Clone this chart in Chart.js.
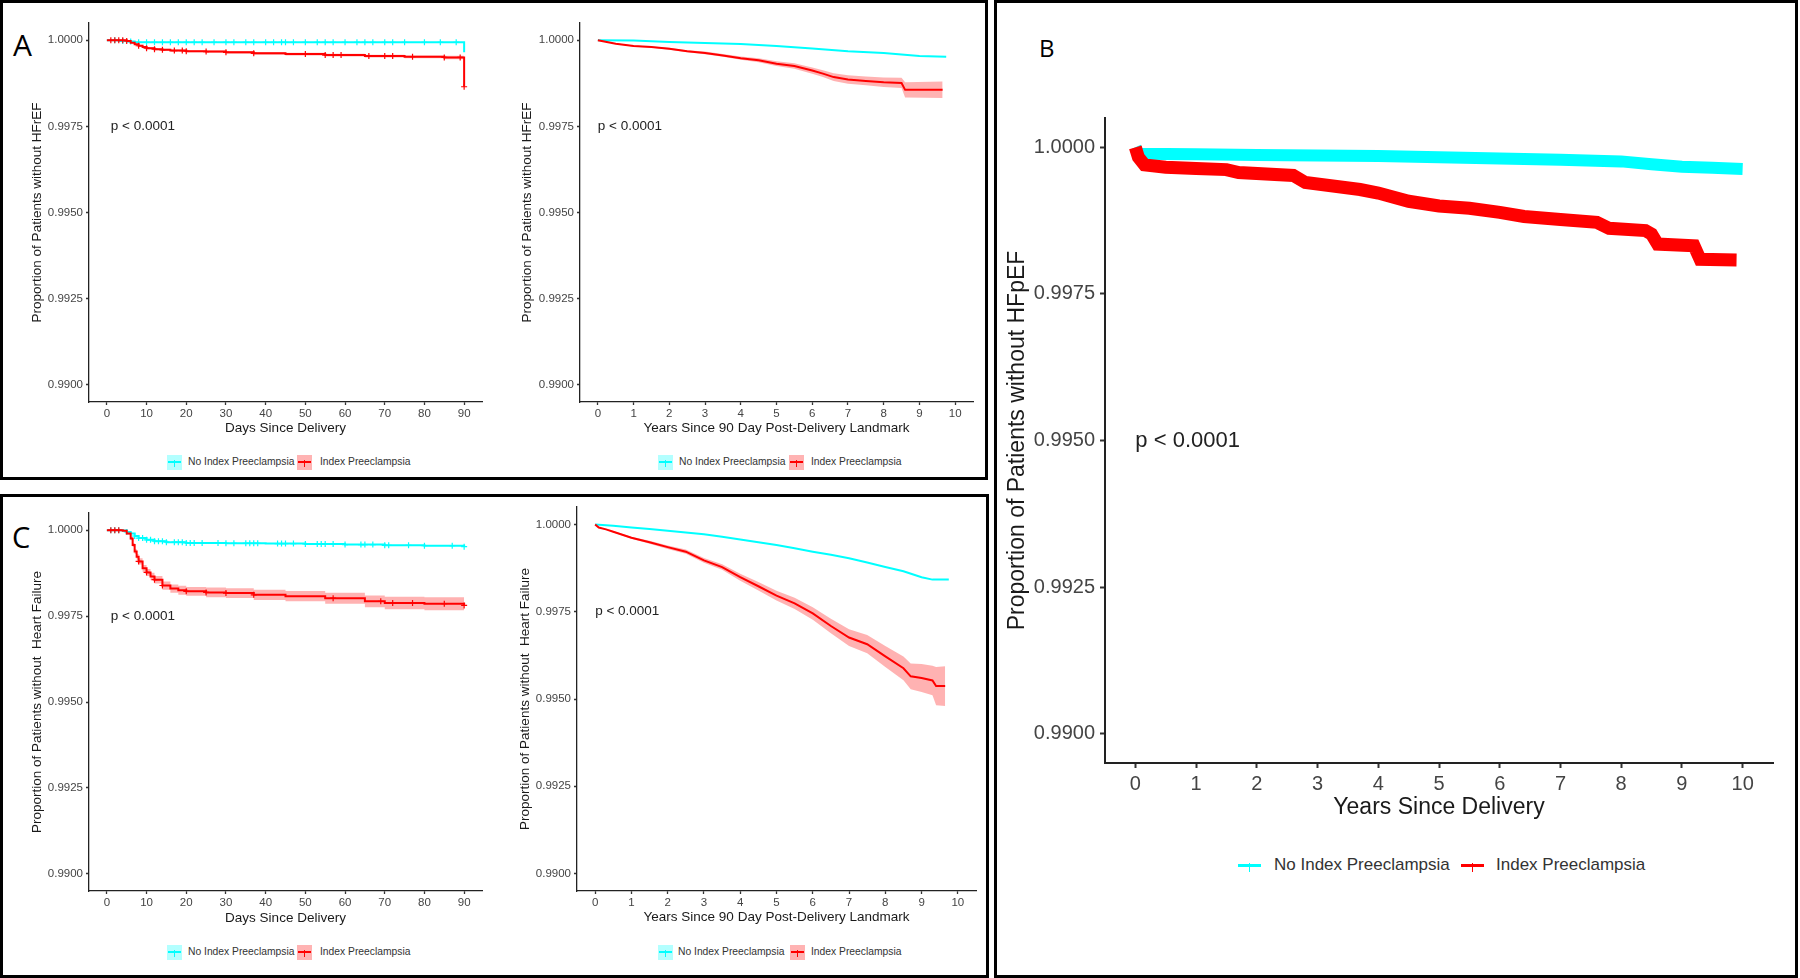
<!DOCTYPE html>
<html>
<head>
<meta charset="utf-8">
<script src="https://cdn.jsdelivr.net/npm/chart.js@4.4.0/dist/chart.umd.min.js"></script>
<style>
  body { margin: 0; width: 1800px; height: 978px; background: #fff; position: relative; overflow: hidden;
         font-family: "Liberation Sans", Arial, sans-serif; }
  .frame { position: absolute; border: 3px solid #000; box-sizing: border-box; }
  .tag { position: absolute; font-family: "Open Sans", "Noto Sans", sans-serif; color: #000; }
  .leg { position: absolute; color: #333; white-space: nowrap; }
  .key { position: absolute; }
  canvas { position: absolute; }
</style>
</head>
<body>
<div class="frame" style="left:0;top:0;width:988px;height:480px"></div>
<div class="frame" style="left:0;top:494px;width:989px;height:484px"></div>
<div class="frame" style="left:994px;top:0;width:804px;height:978px"></div>
<div class="tag" style="left:13px;top:30px;font-size:30px;line-height:30px">A</div>
<div class="tag" style="left:1039px;top:36px;font-size:24px;line-height:24px">B</div>
<div class="tag" style="left:12px;top:522px;font-size:29px;line-height:29px">C</div>

<script>
// shared axes
const yTicks = [0.99, 0.9925, 0.995, 0.9975, 1.0];
const dayTicks = [0, 10, 20, 30, 40, 50, 60, 70, 80, 90];
const yearTicks = [0, 1, 2, 3, 4, 5, 6, 7, 8, 9, 10];
const seriesNames = ['No Index Preeclampsia', 'Index Preeclampsia'];

// A, first 90 days (HFrEF)
const aDayNoT = [0, 3, 5, 7, 45, 90, 90];
const aDayNoS = [1.0, 0.99998, 0.99996, 0.99994, 0.99994, 0.99994, 0.99965];
const aDayNoCens = [2, 4, 6, 8, 10, 12, 14, 16, 18, 20, 22, 24, 27, 30, 32, 35, 37, 40, 42, 44, 45, 47, 50, 53, 55, 57, 60, 63, 65, 67, 70, 72, 75, 80, 84, 88];
const aDayPeT = [0, 5, 6, 7, 8, 9, 10, 12, 14, 16, 20, 25, 30, 37, 45, 55, 65, 75, 85, 89.6, 90];
const aDayPeS = [1.0, 0.99998, 0.99993, 0.99988, 0.99984, 0.9998, 0.99977, 0.99974, 0.99972, 0.9997, 0.99968, 0.99967, 0.99965, 0.99962, 0.9996, 0.99957, 0.99954, 0.99952, 0.9995, 0.9995, 0.99865];
const aDayPeLo = [1.0, 0.99997, 0.99991, 0.99986, 0.99981, 0.99977, 0.99974, 0.99971, 0.99969, 0.99967, 0.99965, 0.99964, 0.99961, 0.99958, 0.99956, 0.99953, 0.9995, 0.99948, 0.99945, 0.99945, 0.99862];
const aDayPeHi = [1.0, 0.99999, 0.99995, 0.9999, 0.99987, 0.99983, 0.9998, 0.99977, 0.99975, 0.99973, 0.99971, 0.9997, 0.99969, 0.99966, 0.99964, 0.99961, 0.99958, 0.99956, 0.99955, 0.99955, 0.99868];
const aDayPeCens = [1, 2, 3, 4, 5, 8, 10, 12, 14, 17, 19, 20, 25, 30, 37, 50, 55, 57, 59, 66, 70, 72, 77, 85, 89, 90];

// A, years after 90 day landmark (HFrEF)
const aYrNoT = [0, 1, 2, 3, 4, 5, 6, 7, 8, 9, 9.75];
const aYrNoS = [1.0, 0.99999, 0.99995, 0.99992, 0.99989, 0.99983, 0.99976, 0.99968, 0.99963, 0.99954, 0.99952];
const aYrPeT = [0, 0.5, 1, 1.5, 2, 2.5, 3, 3.5, 4, 4.5, 5, 5.5, 6, 6.3, 6.6, 7, 7.5, 8, 8.5, 8.6, 9.65];
const aYrPeS = [1.0, 0.9999, 0.99983, 0.9998, 0.99975, 0.99968, 0.99963, 0.99956, 0.99948, 0.99942, 0.99932, 0.99925, 0.99912, 0.99903, 0.99893, 0.99886, 0.99882, 0.99878, 0.99876, 0.99856, 0.99856];
const aYrPeLo = [1.0, 0.99989, 0.99981, 0.99978, 0.99972, 0.99965, 0.99959, 0.99952, 0.99943, 0.99936, 0.99925, 0.99917, 0.99903, 0.99893, 0.99882, 0.99874, 0.99869, 0.99864, 0.99861, 0.99834, 0.99832];
const aYrPeHi = [1.0, 0.99991, 0.99985, 0.99982, 0.99978, 0.99971, 0.99967, 0.9996, 0.99953, 0.99948, 0.99939, 0.99933, 0.99921, 0.99913, 0.99904, 0.99898, 0.99895, 0.99892, 0.99891, 0.99878, 0.9988];

// B, years since delivery (HFpEF)
const bNoT = [0, 0.05, 1, 2, 3, 4, 5, 6, 7, 8, 8.5, 9, 9.5, 10];
const bNoS = [1.0, 0.99989, 0.99988, 0.99987, 0.99986, 0.99985, 0.99983, 0.99981, 0.99979, 0.99976, 0.99971, 0.99967, 0.99965, 0.99963];
const bPeT = [0, 0.05, 0.15, 0.5, 1, 1.5, 1.7, 2.6, 2.8, 3.7, 4, 4.5, 5, 5.5, 6, 6.4, 7, 7.6, 7.8, 8.4, 8.5, 8.6, 9.2, 9.3, 9.9];
const bPeS = [1.0, 0.99983, 0.9997, 0.99966, 0.99964, 0.99962, 0.99957, 0.99952, 0.9994, 0.99928, 0.99922, 0.99908, 0.999, 0.99896, 0.99889, 0.99882, 0.99877, 0.99872, 0.99862, 0.99858, 0.99852, 0.99835, 0.99832, 0.99809, 0.99808];

// C, first 90 days (any heart failure)
const cDayNoT = [0, 3, 4, 5, 6, 7, 8, 10, 12, 15, 20, 30, 40, 50, 60, 70, 80, 90];
const cDayNoS = [1.0, 1.0, 0.99999, 0.99995, 0.9999, 0.99983, 0.99977, 0.99972, 0.99968, 0.99965, 0.99963, 0.99962, 0.99961, 0.9996, 0.99958, 0.99956, 0.99955, 0.99952];
const cDayNoCens = [1, 2, 3, 5, 7, 8, 9, 10, 11, 12, 13, 14, 15, 17, 18, 19, 20, 21, 22, 24, 28, 30, 32, 35, 36, 37, 38, 43, 44, 45, 47, 50, 53, 54, 55, 57, 60, 64, 65, 67, 70, 71, 76, 80, 87, 90];
const cDayPeT = [0, 4, 5, 6, 6.5, 7, 7.5, 8, 9, 10, 11, 12, 14, 16, 18, 20, 25, 30, 37, 45, 55, 65, 70, 80, 90];
const cDayPeS = [1.0, 0.99998, 0.9999, 0.99976, 0.99957, 0.99938, 0.99923, 0.99909, 0.99889, 0.99877, 0.99865, 0.99856, 0.99839, 0.9983, 0.99825, 0.99822, 0.99819, 0.99817, 0.99812, 0.99808, 0.99802, 0.99793, 0.99788, 0.99786, 0.99781];
const cDayPeLo = [1.0, 0.99997, 0.99987, 0.99971, 0.99951, 0.99931, 0.99915, 0.999, 0.99879, 0.99867, 0.99854, 0.99845, 0.99827, 0.99818, 0.99812, 0.99809, 0.99805, 0.99803, 0.99797, 0.99793, 0.99786, 0.99776, 0.9977, 0.99767, 0.99761];
const cDayPeHi = [1.0, 0.99999, 0.99993, 0.99981, 0.99963, 0.99945, 0.99931, 0.99918, 0.99899, 0.99887, 0.99876, 0.99867, 0.99851, 0.99842, 0.99838, 0.99835, 0.99833, 0.99831, 0.99827, 0.99823, 0.99818, 0.9981, 0.99806, 0.99805, 0.99801];
const cDayPeCens = [1, 2, 3, 8, 10, 12, 14, 20, 25, 30, 37, 57, 69, 72, 77, 85, 90];

// C, years after 90 day landmark (any heart failure)
const cYrNoT = [0, 0.5, 1, 1.5, 2, 2.5, 3, 3.5, 4, 4.5, 5, 5.5, 6, 6.5, 7, 7.5, 8, 8.5, 9, 9.3, 9.75];
const cYrNoS = [1.0, 0.99996, 0.99991, 0.99987, 0.99982, 0.99977, 0.99972, 0.99965, 0.99957, 0.99949, 0.99941, 0.99932, 0.99922, 0.99913, 0.99903, 0.99891, 0.99878, 0.99866, 0.99849, 0.99842, 0.99842];
const cYrPeT = [0, 0.1, 0.3, 0.5, 1, 1.5, 2, 2.5, 3, 3.5, 4, 4.5, 5, 5.5, 6, 6.5, 7, 7.5, 8, 8.5, 8.7, 9, 9.3, 9.4, 9.65];
const cYrPeS = [1.0, 0.99991, 0.99986, 0.99979, 0.99962, 0.99949, 0.99935, 0.99922, 0.99897, 0.99878, 0.99849, 0.99823, 0.99796, 0.99774, 0.99745, 0.99709, 0.99676, 0.99657, 0.99622, 0.99588, 0.99565, 0.9956, 0.99553, 0.99537, 0.99537];
const cYrPeLo = [1.0, 0.9999, 0.99985, 0.99977, 0.99959, 0.99945, 0.9993, 0.99916, 0.9989, 0.9987, 0.99839, 0.99811, 0.99782, 0.99758, 0.99727, 0.99688, 0.99652, 0.99631, 0.99592, 0.99554, 0.99528, 0.9952, 0.99511, 0.99482, 0.9948];
const cYrPeHi = [1.0, 0.99992, 0.99987, 0.99981, 0.99965, 0.99953, 0.9994, 0.99928, 0.99904, 0.99886, 0.99859, 0.99835, 0.9981, 0.9979, 0.99763, 0.9973, 0.997, 0.99683, 0.99652, 0.99622, 0.99602, 0.996, 0.99595, 0.99592, 0.99594];

const FONT = '"Liberation Sans", Arial, sans-serif';
const CYAN = '#00ffff';
const RED = '#ff0000';
const CYAN_BAND = '#b3ffff';
const RED_BAND = 'rgba(255, 0, 0, 0.3)';

const pts = (t, s) => t.map((x, i) => ({ x: x, y: s[i] }));

// survival at time x on a step curve
function valueAt(t, s, x) {
  let v = s[0];
  for (let i = 0; i < t.length; i++) {
    if (t[i] <= x) v = s[i];
  }
  return v;
}

function lineDs(t, s, color, width, stepped, order) {
  return { data: pts(t, s), borderColor: color, borderWidth: width, pointRadius: 0,
           stepped: stepped, fill: false, order: order, borderJoinStyle: 'miter' };
}

function bandDs(t, lo, hi, color, stepped) {
  return [
    { data: pts(t, hi), borderWidth: 0, borderColor: 'transparent', pointRadius: 0,
      stepped: stepped, fill: '+1', backgroundColor: color, order: 10 },
    { data: pts(t, lo), borderWidth: 0, borderColor: 'transparent', pointRadius: 0,
      stepped: stepped, fill: false, order: 10 }
  ];
}

function censorDs(times, t, s, color, order) {
  return { data: times.map(x => ({ x: x, y: valueAt(t, s, x) })), showLine: false,
           pointStyle: 'cross', pointRadius: 3, borderColor: color, borderWidth: 1.2, order: order };
}

const pvalPlugin = {
  id: 'pval',
  afterDatasetsDraw(chart, args, opts) {
    const { ctx, scales } = chart;
    ctx.save();
    ctx.font = opts.size + 'px ' + FONT;
    ctx.fillStyle = '#222';
    ctx.textAlign = 'left';
    ctx.textBaseline = 'middle';
    ctx.fillText(opts.text, scales.x.getPixelForValue(opts.x), scales.y.getPixelForValue(opts.y));
    ctx.restore();
  }
};

function makePanel(p) {
  const c = document.createElement('canvas');
  c.width = p.cw;
  c.height = p.ch;
  c.style.left = p.cx + 'px';
  c.style.top = p.cy + 'px';
  document.body.appendChild(c);

  const lh = p.titleSize * 1.2;
  const yW = p.l - p.cx;
  const xH = p.xTitleY + lh / 2 + 2 - p.b;
  const tickFont = { family: FONT, size: p.tickSize };
  const titleFont = { family: FONT, size: p.titleSize };
  const grid = { drawOnChartArea: false, tickLength: p.tickLen, tickColor: '#333', tickWidth: p.axisW, color: '#333' };
  const border = { display: true, color: '#222', width: p.axisW };

  new Chart(c, {
    type: 'line',
    data: { datasets: p.datasets },
    options: {
      responsive: false,
      animation: false,
      devicePixelRatio: 1,
      layout: { padding: { left: 0, top: p.t - p.cy, right: p.cx + p.cw - p.r, bottom: p.cy + p.ch - p.b - xH } },
      plugins: {
        legend: { display: false },
        tooltip: { enabled: false },
        pval: p.pval
      },
      scales: {
        x: {
          type: 'linear', min: p.xMin, max: p.xMax,
          afterBuildTicks: s => { s.ticks = p.xTicks.map(v => ({ value: v })); },
          afterFit: s => { s.height = xH; },
          ticks: { autoSkip: false, maxRotation: 0, font: tickFont, color: '#444', padding: p.tickPad, callback: v => String(v) },
          grid: grid,
          border: border,
          title: { display: true, text: p.xTitle, font: titleFont, color: '#1a1a1a', padding: { top: 0, bottom: 2 } }
        },
        y: {
          type: 'linear', min: 0.9895, max: 1.0005,
          afterBuildTicks: s => { s.ticks = yTicks.map(v => ({ value: v })); },
          afterFit: s => { s.width = yW; },
          ticks: { autoSkip: false, font: tickFont, color: '#444', padding: p.tickPad + 1, callback: v => v.toFixed(4) },
          grid: grid,
          border: border,
          title: { display: true, text: p.yTitle, font: titleFont, color: '#1a1a1a', padding: { top: p.yTitleX - p.cx - lh / 2, bottom: 0 } }
        }
      }
    },
    plugins: [pvalPlugin]
  });
}

// legend row under a panel
function addLegend(y, size, boxed, items) {
  items.forEach(it => {
    const k = document.createElement('div');
    k.className = 'key';
    const w = boxed ? 15 : 23;
    const h = boxed ? 15 : 12;
    k.style.cssText = 'left:' + it.keyX + 'px;top:' + (y - h / 2) + 'px;width:' + w + 'px;height:' + h + 'px;' +
      (boxed ? 'background:' + it.band + ';' : '');
    const lw = boxed ? 2 : 3;
    k.innerHTML =
      '<div style="position:absolute;left:' + (boxed ? 1 : 0) + 'px;right:' + (boxed ? 1 : 0) + 'px;top:' + (h / 2 - lw / 2) + 'px;height:' + lw + 'px;background:' + it.color + '"></div>' +
      '<div style="position:absolute;left:' + (w / 2 - 0.8) + 'px;width:1.6px;top:' + (h / 2 - 2) + 'px;height:' + (boxed ? 7 : 9) + 'px;background:' + it.color + '"></div>';
    document.body.appendChild(k);
    const t = document.createElement('div');
    t.className = 'leg';
    t.style.cssText = 'left:' + it.textX + 'px;top:' + (y - size * 0.6) + 'px;font-size:' + size + 'px;line-height:' + (size * 1.2) + 'px';
    t.textContent = it.label;
    document.body.appendChild(t);
  });
}

const pText = 'p < 0.0001';

makePanel({
  cx: 3, cy: 3, cw: 487, ch: 446, l: 89, t: 23, r: 482, b: 402, xTitleY: 428, yTitleX: 37,
  xMin: -4.5, xMax: 94.5, xTicks: dayTicks,
  xTitle: 'Days Since Delivery', yTitle: 'Proportion of Patients without HFrEF',
  tickSize: 11.5, titleSize: 13.5, tickLen: 3, tickPad: 2, axisW: 1.3,
  pval: { text: pText, x: 1, y: 0.9975, size: 13.5 },
  datasets: [
    ...bandDs(aDayPeT, aDayPeLo, aDayPeHi, RED_BAND, true),
    lineDs(aDayNoT, aDayNoS, CYAN, 2, true, 3),
    lineDs(aDayPeT, aDayPeS, RED, 2, true, 1),
    censorDs(aDayNoCens, aDayNoT, aDayNoS, CYAN, 2),
    censorDs(aDayPeCens, aDayPeT, aDayPeS, RED, 0)
  ]
});

makePanel({
  cx: 492, cy: 3, cw: 490, ch: 446, l: 580, t: 23, r: 973, b: 402, xTitleY: 428, yTitleX: 527,
  xMin: -0.5, xMax: 10.5, xTicks: yearTicks,
  xTitle: 'Years Since 90 Day Post-Delivery Landmark', yTitle: 'Proportion of Patients without HFrEF',
  tickSize: 11.5, titleSize: 13.5, tickLen: 3, tickPad: 2, axisW: 1.3,
  pval: { text: pText, x: 0, y: 0.9975, size: 13.5 },
  datasets: [
    ...bandDs(aYrPeT, aYrPeLo, aYrPeHi, RED_BAND, false),
    lineDs(aYrNoT, aYrNoS, CYAN, 2, false, 3),
    lineDs(aYrPeT, aYrPeS, RED, 2, false, 1)
  ]
});

makePanel({
  cx: 3, cy: 497, cw: 487, ch: 445, l: 89, t: 513, r: 482, b: 891, xTitleY: 918, yTitleX: 37,
  xMin: -4.5, xMax: 94.5, xTicks: dayTicks,
  xTitle: 'Days Since Delivery', yTitle: 'Proportion of Patients without  Heart Failure',
  tickSize: 11.5, titleSize: 13.5, tickLen: 3, tickPad: 2, axisW: 1.3,
  pval: { text: pText, x: 1, y: 0.9975, size: 13.5 },
  datasets: [
    ...bandDs(cDayPeT, cDayPeLo, cDayPeHi, RED_BAND, true),
    lineDs(cDayNoT, cDayNoS, CYAN, 2, true, 3),
    lineDs(cDayPeT, cDayPeS, RED, 2, true, 1),
    censorDs(cDayNoCens, cDayNoT, cDayNoS, CYAN, 2),
    censorDs(cDayPeCens, cDayPeT, cDayPeS, RED, 0)
  ]
});

makePanel({
  cx: 492, cy: 497, cw: 490, ch: 445, l: 577, t: 507, r: 976, b: 891, xTitleY: 917, yTitleX: 525,
  xMin: -0.5, xMax: 10.5, xTicks: yearTicks,
  xTitle: 'Years Since 90 Day Post-Delivery Landmark', yTitle: 'Proportion of Patients without  Heart Failure',
  tickSize: 11.5, titleSize: 13.5, tickLen: 3, tickPad: 2, axisW: 1.3,
  pval: { text: pText, x: 0, y: 0.9975, size: 13.5 },
  datasets: [
    ...bandDs(cYrPeT, cYrPeLo, cYrPeHi, RED_BAND, false),
    lineDs(cYrNoT, cYrNoS, CYAN, 2, false, 3),
    lineDs(cYrPeT, cYrPeS, RED, 2, false, 1)
  ]
});

makePanel({
  cx: 997, cy: 3, cw: 798, ch: 830, l: 1105, t: 118, r: 1773, b: 763, xTitleY: 808, yTitleX: 1018,
  xMin: -0.5, xMax: 10.5, xTicks: yearTicks,
  xTitle: 'Years Since Delivery', yTitle: 'Proportion of Patients without HFpEF',
  tickSize: 20, titleSize: 23, tickLen: 5, tickPad: 4, axisW: 2,
  pval: { text: pText, x: 0, y: 0.995, size: 22 },
  datasets: [
    lineDs(bNoT, bNoS, CYAN, 12, false, 3),
    lineDs(bPeT, bPeS, RED, 13, false, 1)
  ]
});

const smallKeys = (cyanKey, cyanText, redKey, redText) => [
  { keyX: cyanKey, textX: cyanText, color: CYAN, band: CYAN_BAND, label: seriesNames[0] },
  { keyX: redKey, textX: redText, color: RED, band: '#ffb3b3', label: seriesNames[1] }
];
addLegend(462, 10.3, true, smallKeys(167, 188, 297, 320));
addLegend(462, 10.3, true, smallKeys(658, 679, 789, 811));
addLegend(952, 10.3, true, smallKeys(167, 188, 297, 320));
addLegend(952, 10.3, true, smallKeys(658, 678, 790, 811));
addLegend(865, 17, false, smallKeys(1238, 1274, 1461, 1496));
</script>
</body>
</html>
